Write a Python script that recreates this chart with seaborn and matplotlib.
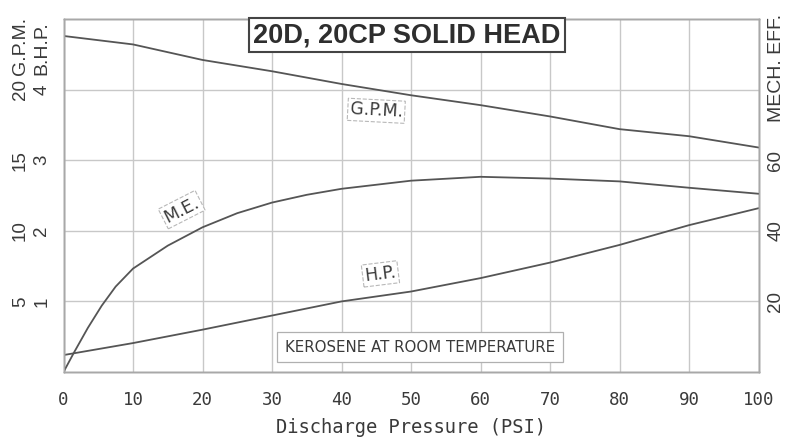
import matplotlib
matplotlib.use("Agg")
import matplotlib.pyplot as plt
import seaborn as sns
import pandas as pd

# Values (20D, 20CP solid head)
psi = [0, 10, 20, 30, 40, 50, 60, 70, 80, 90, 100]
gpm = [23.8, 23.2, 22.1, 21.3, 20.4, 19.6, 18.9, 18.1, 17.2, 16.7, 15.9]
bhp = [0.24, 0.41, 0.60, 0.80, 1.00, 1.14, 1.33, 1.55, 1.80, 2.08, 2.32]
me_psi = [0, 1.5, 3.5, 5.5, 7.5, 10, 15, 20, 25, 30, 35, 40, 50, 60, 70, 80, 90, 100]
me = [0, 5.5, 12.5, 18.8, 24.2, 29.3, 35.8, 41.0, 45.0, 48.0, 50.2, 51.9, 54.2, 55.3, 54.8, 54.0, 52.2, 50.5]

x_ticks = list(range(0, 101, 10))
bhp_ticks = [1, 2, 3, 4]
gpm_ticks = [5, 10, 15, 20]
me_ticks = [20, 40, 60]

curves = pd.DataFrame({"psi": psi, "gpm": gpm, "bhp": bhp})
eff = pd.DataFrame({"psi": me_psi, "me": me})

sns.set_style("white")
plt.rcParams["font.family"] = ["Liberation Sans", "DejaVu Sans"]

ink = "#3a3a3a"
line_c = "#555555"
grid_c = "#c8c8c8"

fig = plt.figure(figsize=(7.97, 4.37), dpi=100)
ax = fig.add_axes([0.0797, 0.1487, 0.8720, 0.8078])
ax_g = ax.twinx()
ax_m = ax.twinx()

sns.lineplot(data=curves, x="psi", y="bhp", ax=ax, color=line_c, lw=1.3)
sns.lineplot(data=curves, x="psi", y="gpm", ax=ax_g, color=line_c, lw=1.3)
sns.lineplot(data=eff, x="psi", y="me", ax=ax_m, color=line_c, lw=1.3)

ax.set_xlim(0, 100)
ax.set_ylim(0, 5)
ax_g.set_ylim(0, 25)
ax_m.set_ylim(0, 100)

ax.set_xticks(x_ticks)
ax.set_xticklabels([str(v) for v in x_ticks], family="DejaVu Sans Mono", fontsize=12.5, color=ink)
ax.set_yticks(bhp_ticks)
ax.set_yticklabels([str(v) for v in bhp_ticks], rotation=90, fontsize=13.5, color=ink, ha="center", va="center")
ax.grid(True, color=grid_c, lw=1.0)
ax.tick_params(axis="x", length=0, pad=14)
ax.tick_params(axis="y", length=0, pad=15.5)

ax_g.yaxis.tick_left()
ax_g.set_yticks(gpm_ticks)
ax_g.set_yticklabels([str(v) for v in gpm_ticks], rotation=90, fontsize=13.5, color=ink, ha="center", va="center")
ax_g.tick_params(axis="y", length=0, pad=31)

ax_m.set_yticks(me_ticks)
ax_m.set_yticklabels([str(v) for v in me_ticks], rotation=90, fontsize=13.5, color=ink, ha="center", va="center")
ax_m.tick_params(axis="y", length=0, pad=12.5)

for a in (ax, ax_g, ax_m):
    a.set_xlabel("")
    a.set_ylabel("")
    for s in a.spines.values():
        s.set_color("#a8a8a8")
        s.set_linewidth(1.0)

ax.set_xlabel("Discharge Pressure (PSI)", family="DejaVu Sans Mono", fontsize=13.5, color=ink, labelpad=6)

# axis headers beside the tick columns
yt = ax.get_yaxis_transform()
ax.text(-0.0626, 4.21, "G.P.M.", transform=yt, rotation=90, ha="center", va="bottom",
        fontsize=14, color=ink, clip_on=False)
ax.text(-0.0309, 4.21, "B.H.P.", transform=yt, rotation=90, ha="center", va="bottom",
        fontsize=14, color=ink, clip_on=False)
ax.text(1.0252, 3.54, "MECH. EFF.", transform=yt, rotation=90, ha="center", va="bottom",
        fontsize=14, color=ink, clip_on=False)

# title and notes
ax_m.text(49.4, 95.4, "20D, 20CP SOLID HEAD", ha="center", va="center", fontsize=19.5,
          fontweight="bold", color="#2e2e2e", zorder=10, clip_on=False,
          bbox=dict(boxstyle="square,pad=0.15", fc="white", ec="#444444", lw=1.5))
ax.text(51.3, 0.35, "KEROSENE AT ROOM TEMPERATURE", ha="center", va="center", fontsize=10.8,
        family="DejaVu Sans", color=ink, zorder=5,
        bbox=dict(boxstyle="square,pad=0.5", fc="white", ec="#b0b0b0", lw=0.9))

lab_box = dict(boxstyle="square,pad=0.12", fc="white", ec="#b8b8b8", lw=0.8, ls="--")
ax_g.text(45, 18.5, "G.P.M.", ha="center", va="center", fontsize=12.5, family="DejaVu Sans",
          color=ink, rotation=-3, bbox=lab_box, zorder=5)
ax_m.text(17, 46, "M.E.", ha="center", va="center", fontsize=12.5, family="DejaVu Sans",
          color=ink, rotation=27, bbox=lab_box, zorder=5)
ax_m.text(45.6, 27.8, "H.P.", ha="center", va="center", fontsize=12.5, family="DejaVu Sans",
          color=ink, rotation=7, bbox=lab_box, zorder=5)

plt.savefig("out.png", dpi=100)
plt.close()
